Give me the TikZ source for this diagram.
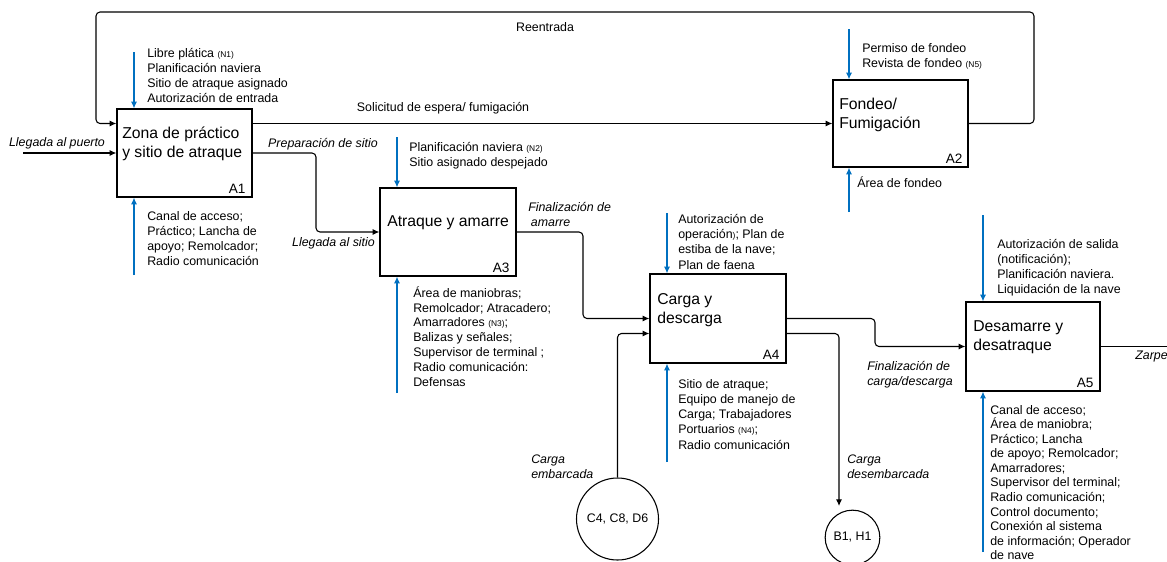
\documentclass[tikz,border=0pt]{standalone}
\usepackage{fontspec}
\setmainfont{Liberation Sans}
\usetikzlibrary{arrows.meta,calc,fit}
\definecolor{ctrlblue}{RGB}{0,112,192}
% small note markers such as (N1)
\newcommand\nt[1]{{\fontsize{6.3}{7}\selectfont(#1)}}
% fixed first-line height so text blocks line up from their top edge
\newcommand\fl{\rule{0pt}{9pt}}

\begin{document}
\begin{tikzpicture}[x=0.75pt,y=-0.75pt,
  box/.style={draw, line width=1pt, inner sep=0pt},
  ttl/.style={font=\fontsize{11.8}{14.25}\selectfont, align=left, inner sep=0pt, anchor=west},
  code/.style={font=\fontsize{10.2}{12}\selectfont, inner sep=0pt, anchor=base east},
  txt/.style={font=\fontsize{9.3}{11.25}\selectfont, align=left, inner sep=0pt, anchor=north west},
  lab/.style={font=\fontsize{9.3}{11.25}\selectfont\itshape, align=left, inner sep=0pt},
  plain/.style={font=\fontsize{9.3}{11.25}\selectfont, inner sep=0pt},
  flow/.style={-{Latex[length=5pt,width=4.6pt]}, line width=0.8pt, rounded corners=3pt},
  ctrl/.style={flow, draw=ctrlblue},
  disk/.style={circle, draw, line width=0.8pt, inner sep=0pt, font=\fontsize{9.3}{11}\selectfont}
]
\useasboundingbox (0,0) rectangle (1167,561);

% activity boxes
\node[box, fit={(117,109) (252,197)}] (A1) {};
\node[box, fit={(833,80) (968,167)}] (A2) {};
\node[box, fit={(380,188) (516,276)}] (A3) {};
\node[box, fit={(650,274) (786,363)}] (A4) {};
\node[box, fit={(966,302) (1100,391)}] (A5) {};

\node[ttl] (A1t) at (122,143.5) {Zona de práctico\\y sitio de atraque};
\node[ttl] (A2t) at (839,114.5) {Fondeo/\\Fumigación};
\node[ttl] (A3t) at (387,223) {Atraque y amarre};
\node[ttl] (A4t) at (657,310) {Carga y\\descarga};
\node[ttl] (A5t) at (973,337.5) {Desamarre y\\desatraque};

\node[code] (A1c) at ($(A1.south east)+(-7,-4)$) {A1};
\node[code] (A2c) at ($(A2.south east)+(-6,-4)$) {A2};
\node[code] (A3c) at ($(A3.south east)+(-7,-4)$) {A3};
\node[code] (A4c) at ($(A4.south east)+(-7,-4)$) {A4};
\node[code] (A5c) at ($(A5.south east)+(-7,-4)$) {A5};

% cargo sets
\node[disk, minimum size=61.5pt] (C) at (617.5,519) {C4, C8, D6};
\node[disk, minimum size=41pt] (B) at (852.5,537.5) {B1, H1};

% main flow
\coordinate (inA1) at (23,153);
\coordinate (r1) at (1034,12);
\coordinate (r2) at (96,12);
\coordinate (k1) at (316,0);
\coordinate (k2) at (583,0);
\coordinate (k3) at (875,0);
\coordinate (A4in2) at ($(A4.west)+(0,15)$);
\coordinate (A4out2) at ($(A4.east)+(0,15)$);
\coordinate (Bin) at (839,506);
\coordinate (zarpe) at (1190,0);

\draw[flow] (inA1) -- (A1.west);
\draw[flow] (A1.east |- A2.west) -- (A2.west);
\draw[flow] (A2.east) -| (r1) -- (r2) |- (A1.west |- A2.west);
\draw[flow] (A1.east) -| (k1 |- A3.west) -- (A3.west);
\draw[flow] (A3.east) -| (k2 |- A4.west) -- (A4.west);
\draw[flow] (C.north) |- (A4in2);
\draw[flow] (A4.east) -| (k3 |- A5.west) -- (A5.west);
\draw[flow] (A4out2) -| (Bin);
\draw[flow] (A5.east) -- (A5.east -| zarpe);

% controls (top) and mechanisms (bottom)
\coordinate (q1) at (134,52);  \draw[ctrl] (q1) -- (q1 |- A1.north);
\coordinate (m1) at (134,275); \draw[ctrl] (m1) -- (m1 |- A1.south);
\coordinate (q2) at (849,29);  \draw[ctrl] (q2) -- (q2 |- A2.north);
\coordinate (m2) at (849,212); \draw[ctrl] (m2) -- (m2 |- A2.south);
\coordinate (q3) at (397,137); \draw[ctrl] (q3) -- (q3 |- A3.north);
\coordinate (m3) at (397,393); \draw[ctrl] (m3) -- (m3 |- A3.south);
\coordinate (q4) at (667,213); \draw[ctrl] (q4) -- (q4 |- A4.north);
\coordinate (m4) at (667,462); \draw[ctrl] (m4) -- (m4 |- A4.south);
\coordinate (q5) at (983,215); \draw[ctrl] (q5) -- (q5 |- A5.north);
\coordinate (m5) at (983,552); \draw[ctrl] (m5) -- (m5 |- A5.south);

% flow labels
\node[plain] (lre) at (545,27) {Reentrada};
\node[plain] (lsol) at (443,108) {Solicitud de espera/ fumigación};
\node[lab] (l1) at (57,143) {Llegada al puerto};
\node[lab] (l2) at (323,144) {Preparación de sitio};
\node[lab] (l3) at (333.5,243) {Llegada al sitio};
\node[lab, anchor=north west] (l4) at (528,199) {\fl Finalización de\\\hspace{2pt}amarre};
\node[lab, anchor=north west] (l5) at (531,451) {\fl Carga\\embarcada};
\node[lab, anchor=north west] (l6) at (847,451) {\fl Carga\\desembarcada};
\node[lab, anchor=north west] (l7) at (867,358) {\fl Finalización de\\carga/descarga};
\node[lab, anchor=west] (l8) at (1135,357) {Zarpe};

% control and mechanism texts
\node[txt] (t1) at (147,45) {\fl Libre plática \nt{N1}\\Planificación naviera\\Sitio de atraque asignado\\Autorización de entrada};
\node[txt] (t2) at (147,208) {\fl Canal de acceso;\\Práctico; Lancha de\\apoyo; Remolcador;\\Radio comunicación};
\node[txt] (t3) at (862,40) {\fl Permiso de fondeo\\Revista de fondeo \nt{N5}};
\node[txt] (t4) at (857,175) {\fl Área de fondeo};
\node[txt] (t5) at (409,139) {\fl Planificación naviera \nt{N2}\\Sitio asignado despejado};
\node[txt, font=\fontsize{9.3}{11.1}\selectfont] (t6) at (413,285) {\fl Área de maniobras;\\Remolcador; Atracadero;\\Amarradores \nt{N3};\\Balizas y señales;\\Supervisor de terminal ;\\Radio comunicación:\\Defensas};
\node[txt, font=\fontsize{9.3}{11.5}\selectfont] (t7) at (678,211) {\fl Autorización de\\operación{\fontsize{6.3}{7}\selectfont)}; Plan de\\estiba de la nave;\\Plan de faena};
\node[txt, font=\fontsize{9.3}{11.4}\selectfont] (t8) at (678,376) {\fl Sitio de atraque;\\Equipo de manejo de\\Carga; Trabajadores\\Portuarios \nt{N4};\\Radio comunicación};
\node[txt] (t9) at (997,236) {\fl Autorización de salida\\(notificación);\\Planificación naviera.\\Liquidación de la nave};
\node[txt, font=\fontsize{9.3}{10.9}\selectfont] (t10) at (990,402) {\fl Canal de acceso;\\Área de maniobra;\\Práctico; Lancha\\de apoyo; Remolcador;\\Amarradores;\\Supervisor del terminal;\\Radio comunicación;\\Control documento;\\Conexión al sistema\\de información; Operador\\de nave};
\end{tikzpicture}
\end{document}
